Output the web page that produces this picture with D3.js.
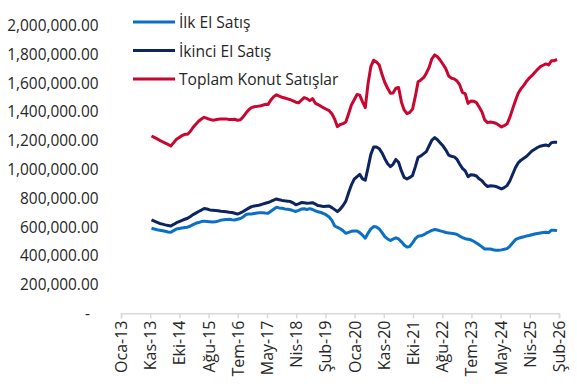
<!DOCTYPE html>
<html>
<head>
<meta charset="utf-8">
<script src="https://cdn.jsdelivr.net/npm/d3@7"></script>
<style>
  body { margin: 0; background: #fff; }
  svg { display: block; font-family: "Open Sans", "Noto Sans", sans-serif; }
</style>
</head>
<body>
<svg id="chart" width="577" height="384"></svg>
<script>
// *** Data (monthly, Ara-13 .. Şub-26, values in thousands) ***
var firstMonth = new Date(2013, 11, 1);

var seriesNames = ["İlk El Satış", "İkinci El Satış", "Toplam Konut Satışlar"];

var ilkEl = [591,586,581,578,574,570,566,563,575,586,590,593,596,599,607,617,626,631,638,641,
  639,637,635,636,641,648,650,652,654,651,649,654,659,670,687,690,691,694,697,700,
  699,697,696,710,724,737,733,730,726,723,720,714,708,716,725,727,722,728,722,712,
  706,701,693,684,670,646,607,598,588,574,556,563,570,573,573,561,543,522,558,587,
  603,600,587,561,533,517,506,516,525,517,497,475,460,465,490,519,536,539,546,557,
  567,577,583,579,573,568,562,559,556,554,548,537,527,519,515,511,501,489,476,462,
  447,447,447,442,438,438,441,445,450,466,489,512,521,527,532,537,541,546,551,555,
  559,562,563,561,578,578,575];

var ikinciEl = [649,641,633,625,620,615,611,607,618,630,638,646,654,661,673,686,697,708,718,729,
  725,719,717,715,713,710,708,706,703,701,696,690,698,708,720,731,742,746,749,753,
  759,765,770,778,787,795,790,785,782,780,777,768,755,761,770,768,766,767,769,760,
  749,746,742,744,746,735,721,707,725,750,780,840,893,933,951,966,935,925,1015,1105,
  1157,1157,1145,1115,1075,1040,1020,1036,1070,1050,990,945,934,945,958,1020,1085,1095,1110,1124,
  1165,1205,1222,1207,1185,1163,1135,1100,1092,1088,1070,1038,1008,990,950,964,962,955,935,922,
  898,882,887,886,882,874,865,874,888,920,965,1012,1045,1065,1078,1090,1110,1129,1141,1153,
  1162,1167,1171,1164,1187,1190,1190];

var toplam = [1233,1223,1213,1203,1193,1183,1174,1164,1187,1210,1222,1236,1245,1245,1266,1292,1315,1336,1351,1363,
  1356,1349,1343,1346,1350,1351,1352,1352,1347,1347,1350,1342,1346,1366,1392,1416,1430,1436,1439,1441,
  1447,1453,1452,1484,1506,1519,1511,1502,1497,1491,1485,1477,1468,1464,1482,1500,1493,1479,1493,1460,
  1451,1440,1428,1419,1409,1388,1350,1298,1313,1319,1330,1390,1449,1485,1522,1517,1470,1430,1600,1715,
  1760,1748,1727,1660,1605,1565,1530,1532,1565,1570,1470,1414,1388,1397,1420,1510,1610,1623,1640,1670,
  1710,1770,1797,1784,1760,1730,1700,1650,1635,1630,1615,1590,1535,1528,1460,1476,1475,1465,1435,1400,
  1345,1326,1330,1327,1322,1310,1296,1305,1316,1362,1420,1478,1528,1562,1585,1612,1635,1652,1675,1695,
  1715,1725,1734,1727,1756,1757,1765];

var yTicks = [0, 200000, 400000, 600000, 800000, 1000000, 1200000, 1400000, 1600000, 1800000, 2000000];
var monthNames = ["Oca","Şub","Mar","Nis","May","Haz","Tem","Ağu","Eyl","Eki","Kas","Ara"];

// excel date axis: starts 1 Oca 2013, one label every 320 days
var axisStart = new Date(2013, 0, 1);
var axisStepDays = 320;
var axisSteps = 15;

// *** Chart building ***
var chart = d3.select("#chart");

var colors = ["#0b6fc6", "#0c2461", "#c8062f"];

var x = d3.scaleTime()
    .domain([axisStart, d3.timeDay.offset(axisStart, axisStepDays * axisSteps)])
    .range([121, 559]);

var y = d3.scaleLinear().domain([0, 2000000]).range([313.3, 25.7]);

var months = d3.range(ilkEl.length).map(i => d3.timeMonth.offset(firstMonth, i));
var xTicks = d3.range(axisSteps + 1).map(i => d3.timeDay.offset(axisStart, i * axisStepDays));

// y labels (no axis line)
chart.append("g").selectAll("text")
    .data(yTicks).enter().append("text")
    .attr("x", d => d === 0 ? 90 : 98.5)
    .attr("y", d => y(d))
    .attr("text-anchor", "end")
    .attr("dominant-baseline", "central")
    .attr("font-size", 15.4)
    .attr("fill", "#262626")
    .text(d => d === 0 ? "-" : d3.format(",.2f")(d));

// x axis
var xAxisG = chart.append("g")
    .attr("transform", "translate(0," + y(0) + ")")
    .call(d3.axisBottom(x).tickValues(xTicks).tickSize(5).tickFormat(""));
xAxisG.select(".domain").attr("stroke", "#d9d9d9").attr("stroke-width", 1.5);
xAxisG.selectAll(".tick line").attr("stroke", "#d9d9d9").attr("stroke-width", 1.5);

chart.append("g").selectAll("text")
    .data(xTicks).enter().append("text")
    .attr("transform", d => "translate(" + x(d) + ",320.5) rotate(-90)")
    .attr("text-anchor", "end")
    .attr("dominant-baseline", "central")
    .attr("font-size", 16)
    .attr("fill", "#262626")
    .text(d => monthNames[d.getMonth()] + "-" + String(d.getFullYear()).slice(2));

// lines
var lineMaker = d3.line()
    .x((d, i) => x(months[i]))
    .y(d => y(d * 1000));

[ilkEl, ikinciEl, toplam].forEach(function(values, k) {
    chart.append("path")
        .attr("d", lineMaker(values))
        .attr("fill", "none")
        .attr("stroke", colors[k])
        .attr("stroke-width", 3)
        .attr("stroke-linejoin", "round");
});

// legend
var legendG = chart.selectAll(".legend")
    .data(seriesNames).enter().append("g")
    .attr("class", "legend")
    .attr("transform", (d, i) => "translate(133," + (22 + i * 28.5) + ")");

legendG.append("line")
    .attr("x1", 0).attr("x2", 42)
    .attr("stroke", (d, i) => colors[i])
    .attr("stroke-width", 3);

legendG.append("text")
    .attr("x", 46)
    .attr("dominant-baseline", "central")
    .attr("font-size", 15.6)
    .attr("fill", "#262626")
    .text(d => d);
</script>
</body>
</html>
